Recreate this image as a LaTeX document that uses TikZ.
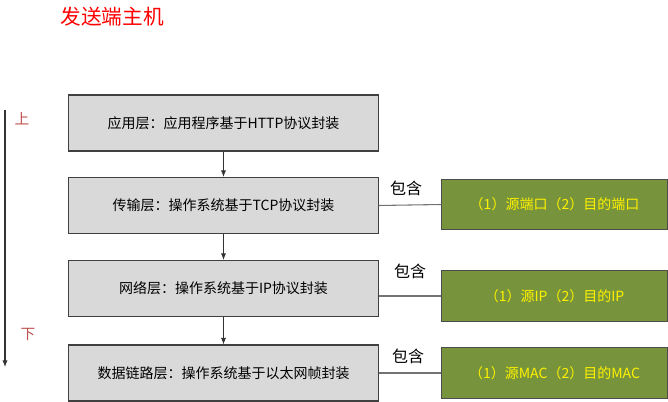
\documentclass[tikz,border=0pt]{standalone}
\usepackage{fontspec}
\setmainfont{Noto Sans CJK SC}
\usetikzlibrary{arrows.meta}
\definecolor{layergray}{HTML}{D9D9D9}
\definecolor{infogreen}{HTML}{77933C}
\definecolor{arrowred}{HTML}{C0504D}
\begin{document}
\begin{tikzpicture}[x=0.75pt, y=-0.75pt, >={Latex[length=5pt,width=4pt]},
  layer/.style={draw=black!75,fill=layergray,minimum width=232pt,minimum height=42pt,font=\fontsize{10.5}{12}\selectfont,thick},
  info/.style={draw=black!70,fill=infogreen,minimum width=169pt,minimum height=38pt,text=yellow,font=\fontsize{10.5}{12}\selectfont,thick},
  link/.style={draw=black!55,thick}]
\useasboundingbox (0,0) rectangle (668,402);
\node[text=red,font=\fontsize{15.5}{17}\selectfont] (title) at (112,17) {发送端主机};
\node[layer] (app) at (223.5,123) {应用层：应用程序基于HTTP协议封装};
\node[layer] (trans) at (223.5,205.5) {传输层：操作系统基于TCP协议封装};
\node[layer] (net) at (223.5,288.5) {网络层：操作系统基于IP协议封装};
\node[layer] (link) at (223.5,373) {数据链路层：操作系统基于以太网帧封装};
\node[info] (port) at (554.5,204.5) {（1）源端口（2）目的端口};
\node[info] (ip) at (554.5,296) {（1）源IP（2）目的IP};
\node[info] (mac) at (554.5,373) {（1）源MAC（2）目的MAC};
\draw[->,thick,black!80] (app) -- (trans);
\draw[->,thick,black!80] (trans) -- (net);
\draw[->,thick,black!80] (net) -- (link);
\draw[link] (trans.east) -- (port.west);
\draw[link] (net.east |- ip.west) -- (ip.west);
\draw[link] (link.east) -- (mac.west);
\node[font=\fontsize{12}{14}\selectfont] (has1) at (406,188) {包含};
\node[font=\fontsize{12}{14}\selectfont] (has2) at (410,271) {包含};
\node[font=\fontsize{12}{14}\selectfont] (has3) at (408,356) {包含};
% top-to-bottom direction
\coordinate (top) at (5,110);
\coordinate (bottom) at (5,367);
\draw[->,thick,black!80] (top) -- (bottom);
\node[text=arrowred,font=\fontsize{11}{12}\selectfont] (up) at (22,119) {上};
\node[text=arrowred,font=\fontsize{11}{12}\selectfont] (down) at (28,334) {下};
\end{tikzpicture}
\end{document}
